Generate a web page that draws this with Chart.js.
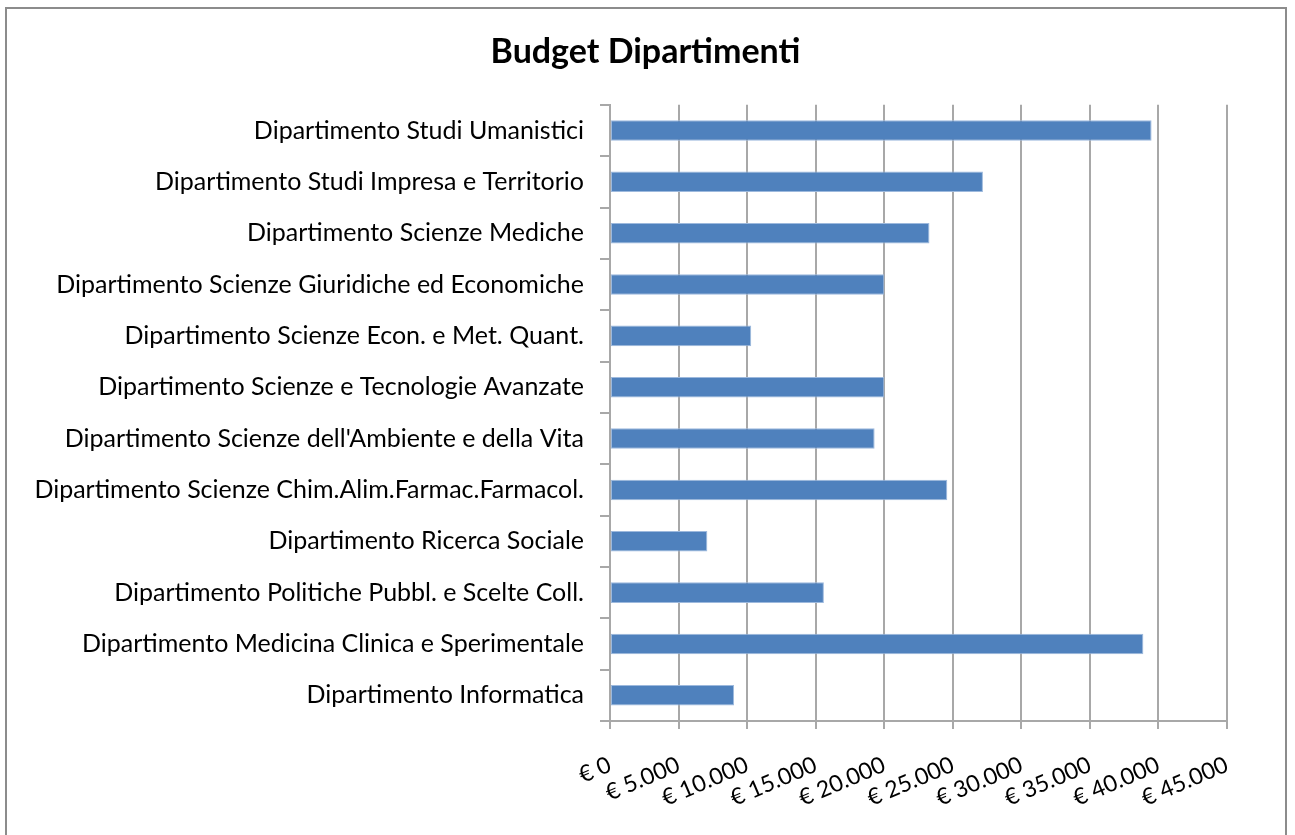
<!DOCTYPE html>
<html>
<head>
<meta charset="utf-8">
<script src="https://cdn.jsdelivr.net/npm/chart.js@4/dist/chart.umd.min.js"></script>
<style>
    html, body { margin: 0; padding: 0; background: #fff; }
    #wrap { position: relative; width: 1295px; height: 835px; overflow: hidden; }
    #frame {
        position: absolute; left: 5px; top: 7px; width: 1282px; height: 840px;
        border: 2px solid #8c8c8c; box-sizing: border-box;
    }
    #chart { position: absolute; left: 0; top: 0; }
</style>
</head>
<body>
<div id="wrap">
    <div id="frame"></div>
    <canvas id="chart" width="1295" height="835"></canvas>
</div>
<script>
// ---- data (top to bottom as in the picture) ----
const departments = [
    "Dipartimento Studi Umanistici",
    "Dipartimento Studi Impresa e Territorio",
    "Dipartimento Scienze Mediche",
    "Dipartimento Scienze Giuridiche ed Economiche",
    "Dipartimento Scienze Econ. e Met. Quant.",
    "Dipartimento Scienze e Tecnologie Avanzate",
    "Dipartimento Scienze dell'Ambiente e della Vita",
    "Dipartimento Scienze Chim.Alim.Farmac.Farmacol.",
    "Dipartimento Ricerca Sociale",
    "Dipartimento Politiche Pubbl. e Scelte Coll.",
    "Dipartimento Medicina Clinica e Sperimentale",
    "Dipartimento Informatica"
];
const budget = [39500, 27200, 23300, 20000, 10300, 20000, 19300, 24600, 7100, 15600, 38900, 9050];

const xMin = 0;
const xMax = 45000;
const xStep = 5000;

const FONT = "Lato, 'Open Sans', sans-serif";
const GRID = "#a8a8a8";

const euro = (v) => "€ " + v.toLocaleString("de-DE");

// nudge the title box so the title is centred like the original (not over the whole canvas)
const titleShift = {
    id: "titleShift",
    afterLayout(chart) {
        const t = chart.titleBlock;
        if (t) { t.left = 64; }
    },
};

new Chart(document.getElementById("chart"), {
    type: "bar",
    data: {
        labels: departments,
        datasets: [{
            label: "Budget",
            data: budget,
            backgroundColor: "#4F81BD",
            borderColor: "#9DB9DD",
            borderWidth: 1,
            borderSkipped: false,
            categoryPercentage: 1,
            barPercentage: 0.4,
        }],
    },
    options: {
        indexAxis: "y",
        responsive: false,
        animation: false,
        layout: { padding: { top: 20, left: 0, right: 68, bottom: 0 } },
        scales: {
            x: {
                min: xMin,
                max: xMax,
                ticks: {
                    stepSize: xStep,
                    autoSkip: false,
                    color: "#000",
                    font: { family: FONT, size: 23 },
                    minRotation: 23,
                    maxRotation: 23,
                    padding: 22,
                    callback: (v) => euro(v),
                },
                grid: { color: GRID, lineWidth: 2, tickLength: 8, tickColor: GRID },
                border: { color: GRID, width: 2 },
                afterFit: (s) => { s.height = 114; },
            },
            y: {
                ticks: {
                    color: "#000",
                    font: { family: FONT, size: 25 },
                    padding: 16,
                },
                grid: { offset: true, drawOnChartArea: false, tickLength: 10, color: GRID, lineWidth: 2 },
                border: { color: GRID, width: 2 },
                afterFit: (s) => { s.width = 610; },
            },
        },
        plugins: {
            legend: { display: false },
            tooltip: { enabled: false },
            title: {
                display: true,
                text: "Budget Dipartimenti",
                color: "#000",
                font: { family: FONT, size: 34, weight: "bold", lineHeight: 1.2 },
                padding: { top: 12, bottom: 32 },
            },
        },
    },
    plugins: [titleShift],
});
</script>
</body>
</html>
